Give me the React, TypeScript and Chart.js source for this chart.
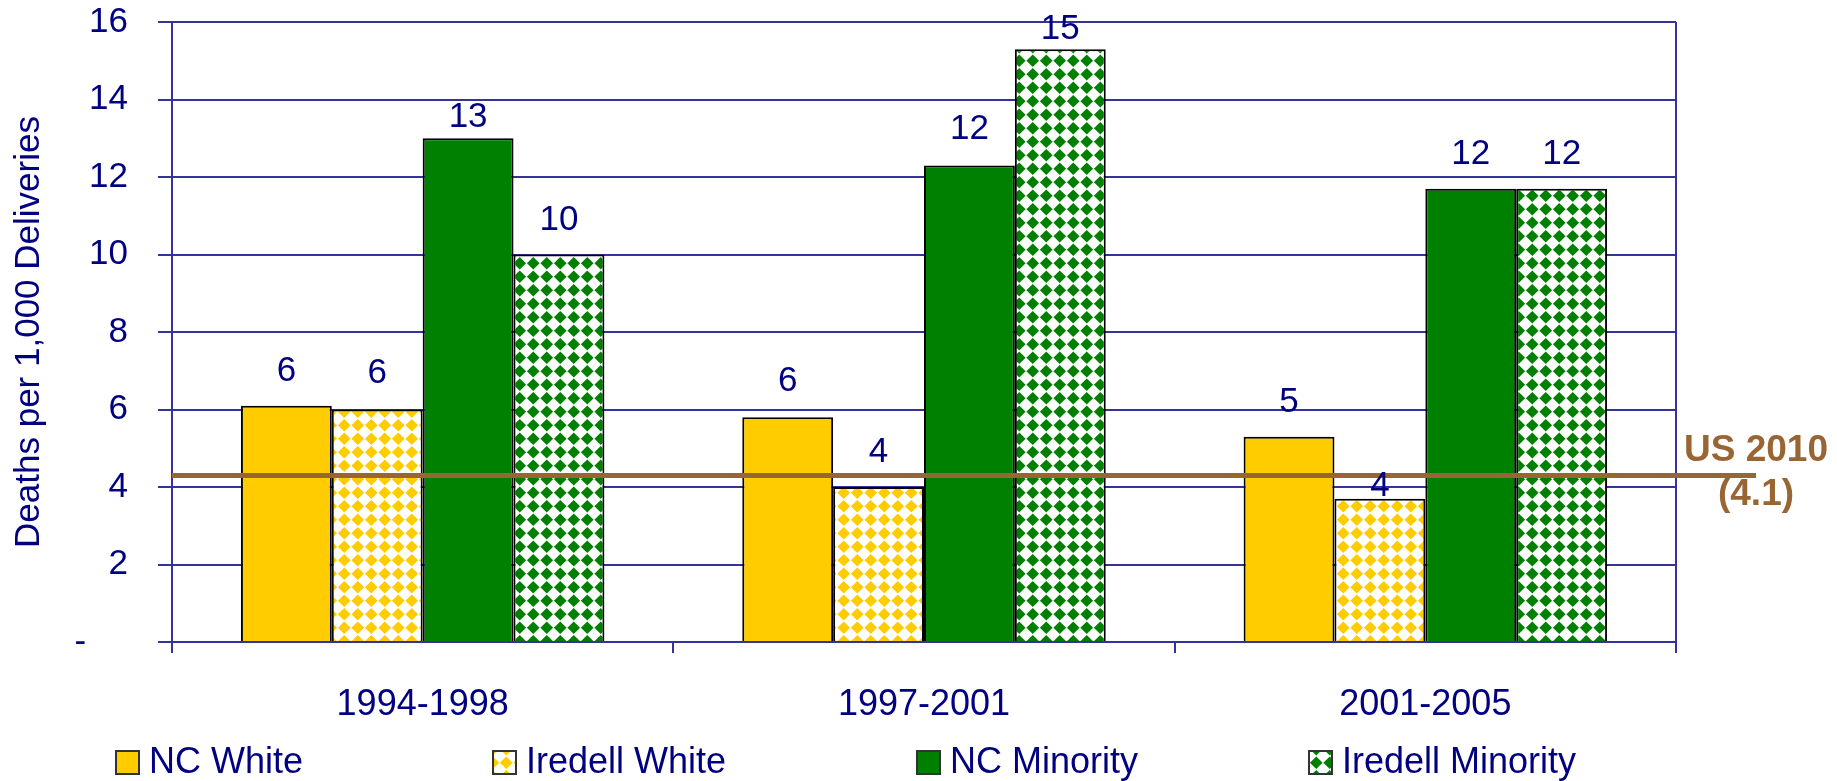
import React, { useEffect, useRef } from 'react';
import { Chart, registerables } from 'chart.js';

Chart.register(...registerables);

// ---- data ----
const categories = ['1994-1998', '1997-2001', '2001-2005'];
const seriesNames = ['NC White', 'Iredell White', 'NC Minority', 'Iredell Minority'];
const ncWhite = [6.1, 5.8, 5.3];
const iredellWhite = [6.0, 4.0, 3.7];
const ncMinority = [13.0, 12.3, 11.7];
const iredellMinority = [10.0, 15.3, 11.7];
const yMin = 0;
const yMax = 16;
const yStep = 2;
const targetValue = 4.3;
const targetLabel = ['US 2010', '(4.1)'];
const yTitle = 'Deaths per 1,000 Deliveries';

// ---- style ----
const FONT = "'Liberation Sans', Arial, Helvetica, sans-serif";
const NAVY = '#000080';
const GRID = '#333399';
const YELLOW = '#FFCC00';
const GREEN = '#008000';
const BROWN = '#996633';
// label gap above bar top per [dataset][category]
const LABEL_GAPS = [
  [34, 36, 34],
  [36, 35, 12],
  [21, 36, 34],
  [34, 20, 34],
];
const LEGEND_X = [116, 493, 917, 1309];

function makePattern(ctx: CanvasRenderingContext2D, color: string): CanvasPattern | string {
  const s = 13.5;
  const n = 2;
  const size = s * n;
  const c = document.createElement('canvas');
  c.width = size;
  c.height = size;
  const g = c.getContext('2d');
  if (!g) return color;
  g.fillStyle = '#ffffff';
  g.fillRect(0, 0, size, size);
  g.fillStyle = color;
  const r = s * 0.47;
  for (let i = 0; i < n; i++) {
    for (let j = 0; j < n; j++) {
      const cx = (i + 0.5) * s;
      const cy = (j + 0.5) * s;
      g.beginPath();
      g.moveTo(cx, cy - r);
      g.lineTo(cx + r, cy);
      g.lineTo(cx, cy + r);
      g.lineTo(cx - r, cy);
      g.closePath();
      g.fill();
    }
  }
  return ctx.createPattern(c, 'repeat') || color;
}

const targetPlugin = {
  id: 'targetLine',
  afterDatasetsDraw(chart: any) {
    const { ctx, chartArea, scales } = chart;
    const y = scales.y.getPixelForValue(targetValue);
    const xEnd = chartArea.right + 80;
    ctx.save();
    ctx.strokeStyle = BROWN;
    ctx.lineWidth = 5;
    ctx.beginPath();
    ctx.moveTo(chartArea.left, y);
    ctx.lineTo(xEnd, y);
    ctx.stroke();
    ctx.fillStyle = BROWN;
    ctx.font = `bold 37px ${FONT}`;
    ctx.textAlign = 'center';
    ctx.textBaseline = 'middle';
    ctx.fillText(targetLabel[0], xEnd, y - 25);
    ctx.fillText(targetLabel[1], xEnd, y + 19);
    ctx.restore();
  },
};

const labelPlugin = {
  id: 'valueLabels',
  afterDatasetsDraw(chart: any) {
    const { ctx } = chart;
    ctx.save();
    ctx.fillStyle = NAVY;
    ctx.font = `35px ${FONT}`;
    ctx.textAlign = 'center';
    ctx.textBaseline = 'middle';
    chart.data.datasets.forEach((ds: any, di: number) => {
      const meta = chart.getDatasetMeta(di);
      meta.data.forEach((bar: any, i: number) => {
        const v = ds.data[i];
        ctx.fillText(String(Math.round(v)), bar.x, bar.y - LABEL_GAPS[di][i]);
      });
    });
    ctx.restore();
  },
};

const framePlugin = {
  id: 'rightFrame',
  beforeDatasetsDraw(chart: any) {
    const { ctx, chartArea } = chart;
    ctx.save();
    ctx.strokeStyle = GRID;
    ctx.lineWidth = 2;
    ctx.beginPath();
    ctx.moveTo(chartArea.right, chartArea.top);
    ctx.lineTo(chartArea.right, chartArea.bottom);
    ctx.stroke();
    ctx.restore();
  },
};

const legendPlugin = {
  id: 'customLegend',
  afterDraw(chart: any) {
    const { ctx } = chart;
    ctx.save();
    ctx.font = `36px ${FONT}`;
    ctx.textBaseline = 'middle';
    ctx.textAlign = 'left';
    const box = 23;
    const boxTop = 751;
    const cy = 763;
    chart.data.datasets.forEach((ds: any, i: number) => {
      const x = LEGEND_X[i];
      ctx.fillStyle = ds.backgroundColor;
      ctx.fillRect(x, boxTop, box, box);
      ctx.strokeStyle = '#333333';
      ctx.lineWidth = 2;
      ctx.strokeRect(x, boxTop, box, box);
      ctx.fillStyle = NAVY;
      ctx.fillText(ds.label, x + box + 10, cy);
    });
    ctx.restore();
  },
};

export default function App() {
  const ref = useRef<HTMLCanvasElement>(null);

  useEffect(() => {
    const canvas = ref.current;
    if (!canvas) return;
    const ctx = canvas.getContext('2d');
    if (!ctx) return;
    const patYellow = makePattern(ctx, YELLOW);
    const patGreen = makePattern(ctx, GREEN);
    const values = [ncWhite, iredellWhite, ncMinority, iredellMinority];
    const fills = [YELLOW, patYellow, GREEN, patGreen];

    const chart = new Chart(ctx, {
      type: 'bar',
      data: {
        labels: categories,
        datasets: seriesNames.map((name, i) => ({
          label: name,
          data: values[i],
          backgroundColor: fills[i] as any,
          borderColor: '#000000',
          borderWidth: 2,
          categoryPercentage: 0.725,
          barPercentage: 1.0,
        })),
      },
      options: {
        animation: false,
        responsive: true,
        maintainAspectRatio: false,
        layout: { padding: { left: 0, right: 161, top: 22, bottom: 0 } },
        plugins: {
          legend: { display: false },
          tooltip: { enabled: false },
        },
        scales: {
          x: {
            grid: {
              drawOnChartArea: false,
              drawTicks: true,
              tickLength: 11,
              color: GRID,
              lineWidth: 2,
              offset: true,
            },
            border: { display: true, color: GRID, width: 2 },
            ticks: {
              color: NAVY,
              font: { size: 36, family: FONT },
              padding: 30,
              maxRotation: 0,
            },
            afterFit: (scale: any) => {
              scale.height = 139;
              scale.paddingLeft = 0;
              scale.paddingRight = 0;
            },
          },
          y: {
            min: yMin,
            max: yMax,
            grid: {
              color: GRID,
              lineWidth: 2,
              drawTicks: true,
              tickLength: 14,
            },
            border: { display: true, color: GRID, width: 2 },
            ticks: {
              stepSize: yStep,
              color: NAVY,
              font: { size: 35, family: FONT },
              padding: 30,
              callback: (v: any) => (Number(v) === 0 ? '-    \u200A' : String(v)),
            },
            title: {
              display: true,
              text: yTitle,
              color: NAVY,
              font: { size: 35, family: FONT },
              padding: { top: 8, bottom: 0 },
            },
            afterFit: (scale: any) => {
              scale.width = 172;
              scale.paddingTop = 0;
              scale.paddingBottom = 0;
            },
          },
        },
      },
      plugins: [framePlugin, targetPlugin, labelPlugin, legendPlugin],
    });

    return () => chart.destroy();
  }, []);

  return (
    <div style={{ position: 'fixed', left: 0, top: 0, width: 1837, height: 781, background: '#ffffff' }}>
      <canvas ref={ref} />
    </div>
  );
}
